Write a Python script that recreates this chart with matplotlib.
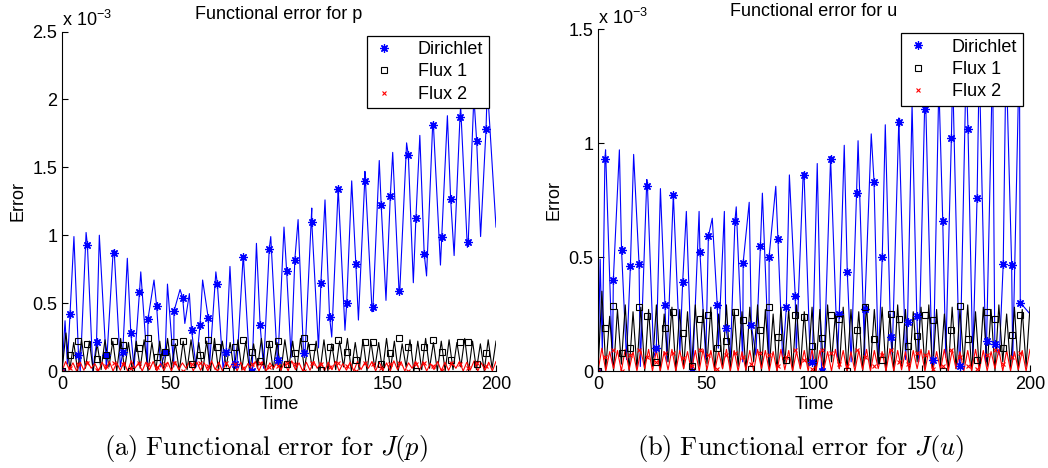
import numpy as np
import matplotlib
matplotlib.use('Agg')
import matplotlib.pyplot as plt

plt.rcParams['font.family'] = ['Liberation Sans', 'DejaVu Sans']
plt.rcParams['mathtext.fontset'] = 'custom'
plt.rcParams['mathtext.rm'] = 'Liberation Sans'
plt.rcParams['mathtext.it'] = 'Liberation Sans:italic'

# all error values are in units of 1e-3

# ---------- panel (a): J(p) ----------
# Dirichlet curve, extrema
p_dir_t = [0, 1.4, 2.5, 5.5, 8.4, 11.1, 14.2, 17.2, 20.4, 23.6, 26.9, 30.1, 33.2, 36.3,
           39.4, 42.4, 45.5, 48.6, 51.5, 54.4, 56.6, 58.7, 61.8, 64.8, 67.9, 70.9, 74.2,
           77.4, 80.5, 83.5, 86.6, 89.6, 92.9, 96.2, 99.3, 102.3, 105.6, 108.8, 112.0,
           115.1, 118.2, 121.2, 124.3, 127.3, 130.4, 133.5, 136.6, 139.6, 142.9, 146.2,
           149.3, 152.4, 155.6, 158.8, 161.9, 164.9, 168.0, 171.1, 174.4, 177.6, 180.7,
           183.7, 186.8, 189.8, 192.9, 196.0, 200.0]
p_dir_v = [0.0, 0.37, 0.05, 0.99, 0.0, 1.02, 0.0, 1.0, 0.02, 0.89, 0.03, 0.83, 0.02, 0.73,
           0.03, 0.67, 0.03, 0.64, 0.03, 0.60, 0.35, 0.57, 0.03, 0.67, 0.02, 0.73, 0.02,
           0.77, 0.02, 0.85, 0.0, 0.94, 0.02, 0.99, 0.05, 1.06, 0.10, 1.115, 0.13,
           1.20, 0.17, 1.26, 0.25, 1.355, 0.30, 1.40, 0.375, 1.47, 0.436, 1.55,
           0.52, 1.61, 0.57, 1.68, 0.65, 1.735, 0.70, 1.83, 0.78, 1.88, 0.85,
           1.95, 0.91, 2.02, 0.99, 2.10, 1.06]

# Flux 1 and Flux 2: trough / peak values, evenly spaced in time over 0..200
p_f1_tr = [0.0, 0.01, 0.0, 0.02, 0.0, 0.01, 0.03, 0.0, 0.01, 0.0, 0.02, 0.0, 0.01, 0.0,
           0.03, 0.0, 0.01, 0.02, 0.0, 0.0, 0.01, 0.03, 0.0, 0.01, 0.0, 0.02, 0.0, 0.01,
           0.0, 0.03, 0.0, 0.01, 0.02, 0.0, 0.0, 0.01, 0.03, 0.0, 0.01, 0.0, 0.02, 0.0,
           0.01, 0.0, 0.03, 0.0, 0.01, 0.02, 0.0, 0.0, 0.01, 0.03, 0.0, 0.01, 0.0, 0.02]
p_f1_pk = [0.28, 0.21, 0.23, 0.22, 0.20, 0.23, 0.22, 0.24, 0.21, 0.22, 0.23, 0.21, 0.22,
           0.24, 0.20, 0.22, 0.23, 0.21, 0.22, 0.24, 0.22, 0.21, 0.23, 0.22, 0.20, 0.24,
           0.22, 0.21, 0.23, 0.22, 0.24, 0.21, 0.22, 0.23, 0.20, 0.22, 0.24, 0.21, 0.23,
           0.22, 0.21, 0.24, 0.22, 0.20, 0.23, 0.22, 0.24, 0.21, 0.22, 0.23, 0.21, 0.24,
           0.22, 0.20, 0.23, 0.22]
p_f2_tr = [0.0, 0.01, 0.0, 0.005, 0.02, 0.0, 0.01, 0.0, 0.005, 0.0, 0.02, 0.0, 0.01, 0.0,
           0.005, 0.0, 0.01, 0.02, 0.0, 0.005, 0.0, 0.01, 0.0, 0.02, 0.0, 0.005, 0.01, 0.0,
           0.0, 0.02, 0.005, 0.0, 0.01, 0.0, 0.005, 0.02, 0.0, 0.01, 0.0, 0.005, 0.0, 0.01,
           0.02, 0.0, 0.005, 0.0, 0.01, 0.0, 0.02, 0.005, 0.0, 0.01, 0.0, 0.005, 0.02, 0.0,
           0.01, 0.0, 0.005, 0.0]
p_f2_pk = [0.07, 0.06, 0.065, 0.07, 0.055, 0.065, 0.07, 0.06, 0.065, 0.075, 0.06, 0.065,
           0.07, 0.055, 0.065, 0.07, 0.06, 0.07, 0.065, 0.06, 0.075, 0.065, 0.06, 0.07,
           0.065, 0.055, 0.07, 0.065, 0.06, 0.07, 0.065, 0.075, 0.06, 0.065, 0.07, 0.06,
           0.065, 0.07, 0.055, 0.065, 0.07, 0.06, 0.07, 0.065, 0.06, 0.075, 0.065, 0.06,
           0.07, 0.065, 0.055, 0.07, 0.065, 0.06, 0.07, 0.065, 0.075, 0.06, 0.065, 0.07]

# marker samples (shared times for the three series)
p_mk_t = [0, 3.7, 7.6, 11.7, 15.9, 20.2, 24.1, 28.0, 31.7, 35.7, 39.6, 43.6, 47.6, 51.6,
          55.6, 59.7, 63.6, 67.4, 71.6, 75.6, 79.6, 83.6, 87.6, 91.3, 95.5, 99.5, 103.5,
          107.3, 111.3, 115.1, 119.3, 123.3, 127.3, 131.2, 135.4, 139.5, 143.3, 147.1,
          151.3, 155.3, 159.6, 163.1, 166.9, 170.8, 175.0, 179.1, 183.4, 187.2, 191.1, 195.4]
p_dir_mk = [0.0, 0.42, 0.12, 0.93, 0.21, 0.12, 0.87, 0.14, 0.28, 0.58, 0.38, 0.48, 0.14,
            0.44, 0.54, 0.30, 0.34, 0.39, 0.64, 0.14, 0.05, 0.84, 0.0, 0.34, 0.90, 0.08,
            0.74, 0.82, 0.13, 1.10, 0.645, 0.40, 1.34, 0.50, 0.79, 1.40, 0.47, 1.22, 1.29,
            0.59, 1.59, 1.13, 0.865, 1.81, 0.99, 1.265, 1.87, 0.95, 1.69, 1.78]
p_f1_mk = [0.0, 0.12, 0.22, 0.20, 0.09, 0.12, 0.22, 0.19, 0.0, 0.17, 0.24, 0.10, 0.14,
           0.21, 0.22, 0.05, 0.12, 0.23, 0.18, 0.0, 0.18, 0.23, 0.14, 0.07, 0.20, 0.22,
           0.05, 0.13, 0.24, 0.18, 0.01, 0.18, 0.23, 0.14, 0.08, 0.21, 0.21, 0.05, 0.13,
           0.24, 0.18, 0.0, 0.18, 0.23, 0.14, 0.08, 0.21, 0.21, 0.05, 0.13]
p_f2_mk = [0.0, 0.02, 0.05, 0.06, 0.01, 0.04, 0.06, 0.05, 0.02, 0.06, 0.05, 0.03, 0.05,
           0.06, 0.0, 0.05, 0.06, 0.04, 0.01, 0.06, 0.05, 0.02, 0.05, 0.06, 0.03, 0.04,
           0.06, 0.05, 0.0, 0.06, 0.05, 0.03, 0.06, 0.04, 0.0, 0.06, 0.05, 0.02, 0.05,
           0.06, 0.0, 0.05, 0.06, 0.04, 0.01, 0.06, 0.05, 0.02, 0.06, 0.04]

# ---------- panel (b): J(u) ----------
q_dir_t = [0, 1.0, 2.0, 3.5, 6.7, 9.9, 13.2, 16.5, 19.6, 22.6, 25.8, 28.9, 31.9, 34.9,
           37.9, 40.9, 43.9, 46.8, 49.9, 52.9, 55.7, 58.5, 61.3, 64.0, 67.0, 70.0, 73.1,
           76.1, 79.2, 82.3, 85.5, 88.6, 91.8, 95.0, 98.3, 101.5, 104.6, 107.7, 110.9,
           114.0, 117.2, 120.4, 123.5, 126.5, 129.8, 133.0, 136.2, 139.3, 142.4, 145.4,
           148.5, 151.6, 154.7, 157.8, 161.0, 164.2, 167.3, 170.4, 173.5, 176.5, 179.6,
           182.7, 185.8, 188.9, 192.0, 195.1, 200.0]
q_dir_v = [0.0, 0.49, 0.08, 0.97, 0.03, 0.97, 0.05, 0.95, 0.02, 0.84, 0.06, 0.80, 0.04,
           0.78, 0.08, 0.70, 0.02, 0.70, 0.05, 0.67, 0.10, 0.70, 0.06, 0.72, 0.04, 0.74,
           0.07, 0.78, 0.03, 0.81, 0.05, 0.86, 0.08, 0.87, 0.03, 0.91, 0.02, 0.94, 0.06,
           0.99, 0.04, 1.01, 0.05, 1.04, 0.03, 1.08, 0.07, 1.11, 0.05, 1.17,
           0.04, 1.22, 0.02, 1.26, 0.06, 1.30, 0.03, 1.33, 0.05, 1.35, 0.04,
           1.37, 0.07, 1.39, 0.05, 1.42, 0.25]

q_f1_tr = [0.0, 0.01, 0.0, 0.03, 0.0, 0.01, 0.0, 0.02, 0.0, 0.04, 0.0, 0.01, 0.0, 0.02,
           0.03, 0.0, 0.01, 0.0, 0.02, 0.0, 0.04, 0.0, 0.01, 0.0, 0.03, 0.0, 0.01, 0.02,
           0.0, 0.0, 0.04, 0.01, 0.0, 0.02, 0.0, 0.01, 0.03, 0.0, 0.0, 0.02, 0.0, 0.04,
           0.01, 0.0, 0.02, 0.0, 0.01, 0.03, 0.0, 0.0, 0.02, 0.0, 0.04, 0.01, 0.0, 0.02]
q_f1_pk = [0.35, 0.24, 0.27, 0.29, 0.26, 0.28, 0.27, 0.29, 0.25, 0.28, 0.27, 0.26, 0.29,
           0.27, 0.28, 0.25, 0.29, 0.27, 0.26, 0.28, 0.29, 0.27, 0.25, 0.28, 0.27, 0.29,
           0.26, 0.28, 0.27, 0.29, 0.25, 0.28, 0.27, 0.26, 0.29, 0.27, 0.28, 0.25, 0.29,
           0.27, 0.26, 0.28, 0.29, 0.27, 0.25, 0.28, 0.27, 0.29, 0.26, 0.28, 0.27, 0.29,
           0.25, 0.28, 0.27, 0.28]
q_f2_tr = [0.0, 0.0, 0.01, 0.0, 0.005, 0.0, 0.01, 0.0, 0.0, 0.005, 0.0, 0.01, 0.0, 0.0,
           0.005, 0.0, 0.01, 0.0, 0.0, 0.005, 0.0, 0.01, 0.0, 0.0, 0.005, 0.0, 0.01, 0.0,
           0.0, 0.005, 0.0, 0.01, 0.0, 0.0, 0.005, 0.0, 0.01, 0.0, 0.0, 0.005, 0.0, 0.01,
           0.0, 0.0, 0.005, 0.0, 0.01, 0.0, 0.0, 0.005, 0.0, 0.01, 0.0, 0.0, 0.005, 0.0]
q_f2_pk = [0.10, 0.085, 0.09, 0.095, 0.085, 0.09, 0.095, 0.09, 0.085, 0.095, 0.09, 0.085,
           0.09, 0.095, 0.09, 0.085, 0.095, 0.09, 0.085, 0.09, 0.095, 0.09, 0.085, 0.095,
           0.09, 0.085, 0.09, 0.095, 0.09, 0.085, 0.095, 0.09, 0.085, 0.09, 0.095, 0.09,
           0.085, 0.095, 0.09, 0.085, 0.09, 0.095, 0.09, 0.085, 0.095, 0.09, 0.085, 0.09,
           0.095, 0.09, 0.085, 0.095, 0.09, 0.085, 0.09, 0.095]

q_mk_t = [0, 3.2, 7.1, 10.9, 15.0, 19.0, 22.9, 27.0, 31.0, 34.9, 39.2, 43.4, 47.2, 51.1,
          55.2, 59.2, 63.4, 67.2, 71.0, 75.2, 79.2, 83.3, 87.2, 91.3, 95.4, 99.2, 103.5,
          107.7, 111.7, 115.4, 119.7, 123.5, 127.8, 131.6, 135.5, 139.3, 143.3, 147.6,
          151.2, 155.3, 159.6, 163.6, 167.6, 171.3, 175.5, 179.9, 183.7, 187.6, 191.5, 195.5]
q_dir_mk = [0.0, 0.93, 0.40, 0.53, 0.46, 0.47, 0.81, 0.10, 0.29, 0.77, 0.39, 0.0, 0.52,
            0.59, 0.29, 0.19, 0.66, 0.475, 0.20, 0.55, 0.50, 0.58, 0.28, 0.33, 0.86, 0.04,
            0.0, 0.93, 0.25, 0.435, 0.78, 0.27, 0.83, 0.50, 0.15, 1.09, 0.216, 0.24, 1.15,
            0.05, 0.66, 1.02, 0.02, 1.06, 0.76, 0.13, 0.12, 0.47, 0.465, 0.30]
q_f1_mk = [0.0, 0.19, 0.285, 0.08, 0.10, 0.28, 0.24, 0.04, 0.19, 0.26, 0.165, 0.02, 0.23,
           0.245, 0.10, 0.13, 0.26, 0.225, 0.01, 0.18, 0.28, 0.15, 0.05, 0.245, 0.235,
           0.11, 0.145, 0.245, 0.23, 0.0, 0.18, 0.28, 0.14, 0.05, 0.25, 0.23, 0.11, 0.155,
           0.245, 0.225, 0.0, 0.18, 0.285, 0.14, 0.05, 0.26, 0.23, 0.10, 0.16, 0.245]
q_f2_mk = [0.0, 0.06, 0.09, 0.0, 0.07, 0.09, 0.06, 0.04, 0.08, 0.08, 0.055, 0.02, 0.09,
           0.07, 0.01, 0.07, 0.08, 0.06, 0.03, 0.08, 0.07, 0.02, 0.06, 0.09, 0.05, 0.01,
           0.09, 0.08, 0.03, 0.02, 0.09, 0.06, 0.02, 0.07, 0.09, 0.04, 0.03, 0.08, 0.07,
           0.01, 0.02, 0.09, 0.06, 0.02, 0.01, 0.07, 0.09, 0.03, 0.06, 0.08]

legend_labels = ['Dirichlet', 'Flux 1', 'Flux 2']


def zigzag(troughs, peaks, t_end=200.0):
    # alternate trough/peak values on an even time grid
    vals = [v for pair in zip(troughs, peaks) for v in pair]
    return np.linspace(0, t_end, len(vals)), np.array(vals)


def with_markers(t, v, mt, mv):
    # let the line also pass through the sampled marker points
    tt = np.concatenate([t, mt])
    vv = np.concatenate([v, mv])
    order = np.argsort(tt, kind='stable')
    return tt[order], vv[order]


def draw_panel(ax, title, ymax, yticks, dir_line, f1_line, f2_line, mk_t, mks, caption):
    ax.plot(*dir_line, color='b', lw=0.8)
    ax.plot(*f1_line, color='k', lw=0.8)
    ax.plot(*f2_line, color='r', lw=0.8)
    h1, = ax.plot(mk_t, mks[0], ls='none', marker=(8, 2, 0), ms=6, mew=0.9, color='b')
    h2, = ax.plot(mk_t, mks[1], ls='none', marker='s', ms=4.5, mew=0.8, mfc='none', mec='k')
    h3, = ax.plot(mk_t, mks[2], ls='none', marker='x', ms=3.5, mew=0.8, color='r')

    ax.set_xlim(0, 200)
    ax.set_ylim(0, ymax)
    ax.set_xticks([0, 50, 100, 150, 200])
    ax.set_yticks(yticks)
    ax.set_yticklabels(['%g' % y for y in yticks])
    for s in ('top', 'right'):
        ax.spines[s].set_visible(False)
    for s in ('left', 'bottom'):
        ax.spines[s].set_linewidth(0.8)
    ax.tick_params(direction='in', length=4, width=0.8, labelsize=13)
    ax.set_xlabel('Time', fontsize=13, labelpad=2)
    ax.set_ylabel('Error', fontsize=13)
    ax.set_title(title, fontsize=13, pad=9)
    ax.text(0.0, 1.003, r'x 10$^{-3}$', transform=ax.transAxes, ha='left', va='bottom',
            fontsize=13)

    leg = ax.legend([h1, h2, h3], legend_labels, loc='upper right',
                    bbox_to_anchor=(0.983, 0.988), borderaxespad=0, fontsize=13,
                    fancybox=False, framealpha=1, edgecolor='k', handlelength=1.2,
                    handletextpad=1.3, labelspacing=0.3, borderpad=0.3)
    leg.get_frame().set_linewidth(0.9)

    ax.text(0.47, -0.228, caption, transform=ax.transAxes, ha='center', va='center',
            fontsize=19, math_fontfamily='cm')


fig = plt.figure(figsize=(10.48, 4.68), dpi=100)
ax1 = fig.add_axes([62 / 1048, 97 / 468, 434 / 1048, 339.5 / 468])
ax2 = fig.add_axes([598 / 1048, 97 / 468, 432 / 1048, 342 / 468])

draw_panel(ax1, 'Functional error for p', 2.5, [0, 0.5, 1, 1.5, 2, 2.5],
           with_markers(p_dir_t, p_dir_v, p_mk_t, p_dir_mk),
           zigzag(p_f1_tr, p_f1_pk), zigzag(p_f2_tr, p_f2_pk),
           p_mk_t, [p_dir_mk, p_f1_mk, p_f2_mk],
           r'$\mathrm{(a)\ Functional\ error\ for\ }J(p)$')
draw_panel(ax2, 'Functional error for u', 1.5, [0, 0.5, 1, 1.5],
           with_markers(q_dir_t, q_dir_v, q_mk_t, q_dir_mk),
           zigzag(q_f1_tr, q_f1_pk), zigzag(q_f2_tr, q_f2_pk),
           q_mk_t, [q_dir_mk, q_f1_mk, q_f2_mk],
           r'$\mathrm{(b)\ Functional\ error\ for\ }J(u)$')

fig.savefig('out.png', dpi=100)
